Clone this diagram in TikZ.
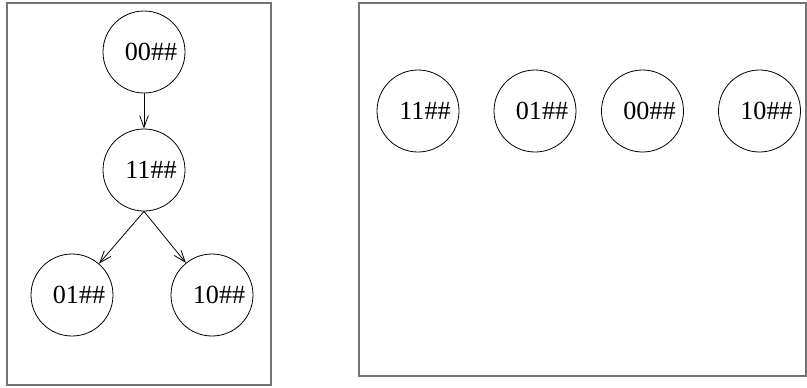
\documentclass[tikz,border=0pt]{standalone}
\usepackage{fontspec}
\setmainfont{Liberation Serif}
\usetikzlibrary{arrows.meta,positioning}
\tikzset{
  state/.style={
    shape = circle,
    draw,
    line width = 0.6pt,
    minimum size = 61.5pt,
    inner sep = 0pt,
    font = \fontsize{19.6}{22}\selectfont
  },
  frame/.style={
    draw = black!55,
    line width = 1.2pt
  },
  edge/.style={
    line width = 0.6pt,
    -{Straight Barb[length=9pt,width=6.5pt]}
  }
}
\newcommand{\pat}[1]{\kern10.5pt#1}

\begin{document}
\begin{tikzpicture}[x=0.75pt,y=-0.75pt]
    \useasboundingbox (0,0) rectangle (807,387);
    % the two frames
    \draw[frame] (7,3) rectangle (271,385);
    \draw[frame] (359,3) rectangle (806,376);
    % tree on the left
    \node[state] (t00) at (144,52) {\pat{00\#\#}};
    \node[state] (t11) at (144,170) {\pat{11\#\#}};
    \node[state] (t01) at (72,295) {\pat{01\#\#}};
    \node[state] (t10) at (212,295) {\pat{10\#\#}};
    \draw[edge] (t00) -- (t11);
    \draw[edge] (t11.south) -- (t01);
    \draw[edge] (t11.south) -- (t10);
    % flat row on the right
    \foreach \name/\x in {11/418, 01/535, 00/642.5, 10/759.5}{
        \node[state] (f\name) at (\x,111) {\pat{\name\#\#}};
    }
\end{tikzpicture}
\end{document}
